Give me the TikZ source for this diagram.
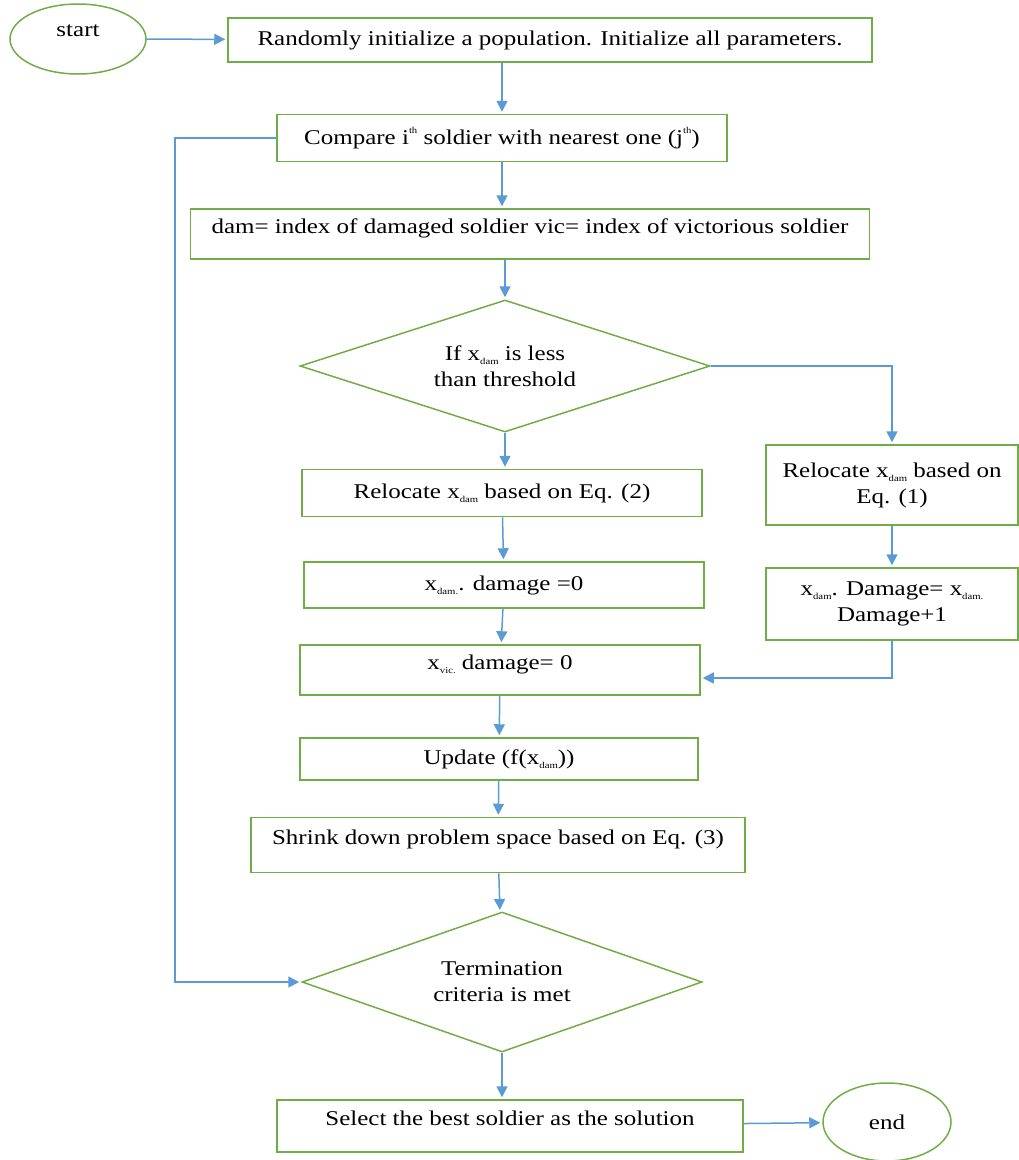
\documentclass[tikz,border=0pt]{standalone}
\usepackage{fontspec}
\setmainfont{Liberation Serif}[FakeStretch=1.19]
\usepackage{tikz}
\usetikzlibrary{
	shapes.geometric,
	positioning,
	arrows.meta
}
\definecolor{boxgreen}{HTML}{70AD47}
\definecolor{flowblue}{HTML}{5B9BD5}
\newcommand{\subx}[1]{\raisebox{-0.2em}{\fontsize{9}{9}\selectfont #1}}
\newcommand{\supx}[1]{\raisebox{0.55em}{\fontsize{9}{9}\selectfont #1}}

\begin{document}
\begin{tikzpicture}[
		x=1pt, y=-1pt,
		font=\fontsize{21}{26}\selectfont,
		process/.style={draw=boxgreen, line width=1.5pt, rectangle, align=center, inner sep=0pt},
		decision/.style={draw=boxgreen, line width=1.5pt, diamond, aspect=3, align=center, inner sep=0pt},
		terminal/.style={draw=boxgreen, line width=1.5pt, ellipse, inner sep=0pt},
		raised/.style={text depth=16pt},
		flow/.style={draw=flowblue, line width=1.5pt, shorten >=2pt, -{Triangle[length=11pt,width=11pt]}},
		every edge/.style={flow}
	]
		\useasboundingbox (0,0) rectangle (1019,1160);
		\draw
			node [terminal, raised, minimum width=136pt, minimum height=70pt] (start) at (78,39) {start}
			node [process, minimum width=644pt, minimum height=44pt]  (init)   at (550,40)   {Randomly initialize a population. Initialize all parameters.}
			node [process, minimum width=450pt, minimum height=47pt]  (comp)   at (502,138)  {Compare i\supx{th} soldier with nearest one (j\supx{th})}
			node [process, raised, minimum width=679pt, minimum height=50pt] (index) at (530,234) {dam= index of damaged soldier vic= index of victorious soldier}
			node [decision, minimum width=410pt, minimum height=132pt] (thresh) at (505,366) {If x\subx{dam} is less\\than threshold}
			node [process, minimum width=252pt, minimum height=80pt]  (relocA) at (892,485)  {Relocate x\subx{dam} based on\\Eq. (1)}
			node [process, minimum width=400pt, minimum height=47pt]  (relocB) at (502,493)  {Relocate x\subx{dam} based on Eq. (2)}
			node [process, minimum width=400pt, minimum height=46pt]  (dmgzero) at (504,585) {x\subx{dam.}. damage =0}
			node [process, minimum width=252pt, minimum height=72pt]  (dmginc) at (892,604)  {x\subx{dam}. Damage= x\subx{dam.}\\Damage+1}
			node [process, raised, minimum width=400pt, minimum height=50pt] (viczero) at (500,670) {x\subx{vic.} damage= 0}
			node [process, minimum width=398pt, minimum height=42pt]  (update) at (499,759)  {Update (f(x\subx{dam}))}
			node [process, raised, minimum width=494pt, minimum height=55pt] (shrink) at (498,845) {Shrink down problem space based on Eq. (3)}
			node [decision, minimum width=400pt, minimum height=140pt] (stop) at (502,982)   {Termination\\criteria is met}
			node [process, raised, minimum width=466pt, minimum height=52pt] (best) at (510,1126) {Select the best soldier as the solution}
			node [terminal, minimum width=128pt, minimum height=78pt] (end)    at (887,1122) {end}

			(start) edge (init)
			(comp.north |- init.south) edge (comp.north)
			(comp.south) edge (comp.south |- index.north)
			(thresh.north |- index.south) edge (thresh.north)
			(thresh.south) edge (thresh.south |- relocB.north)
			(relocB) edge (dmgzero)
			(relocA) edge (dmginc)
			(dmgzero) edge (viczero)
			(viczero) edge (update)
			(update) edge (shrink)
			(shrink) edge (stop)
			(stop.south) edge (stop.south |- best.north)
			(best) edge (end)
		;
		\coordinate (loop) at (175,138);
		\draw [flow] (thresh.east) -| (relocA.north);
		\draw [flow] (dmginc.south) |- ([yshift=-8pt]viczero.east);
		\draw [flow] (comp.west) -- (loop) |- (stop.west);
	\end{tikzpicture}
\end{document}
